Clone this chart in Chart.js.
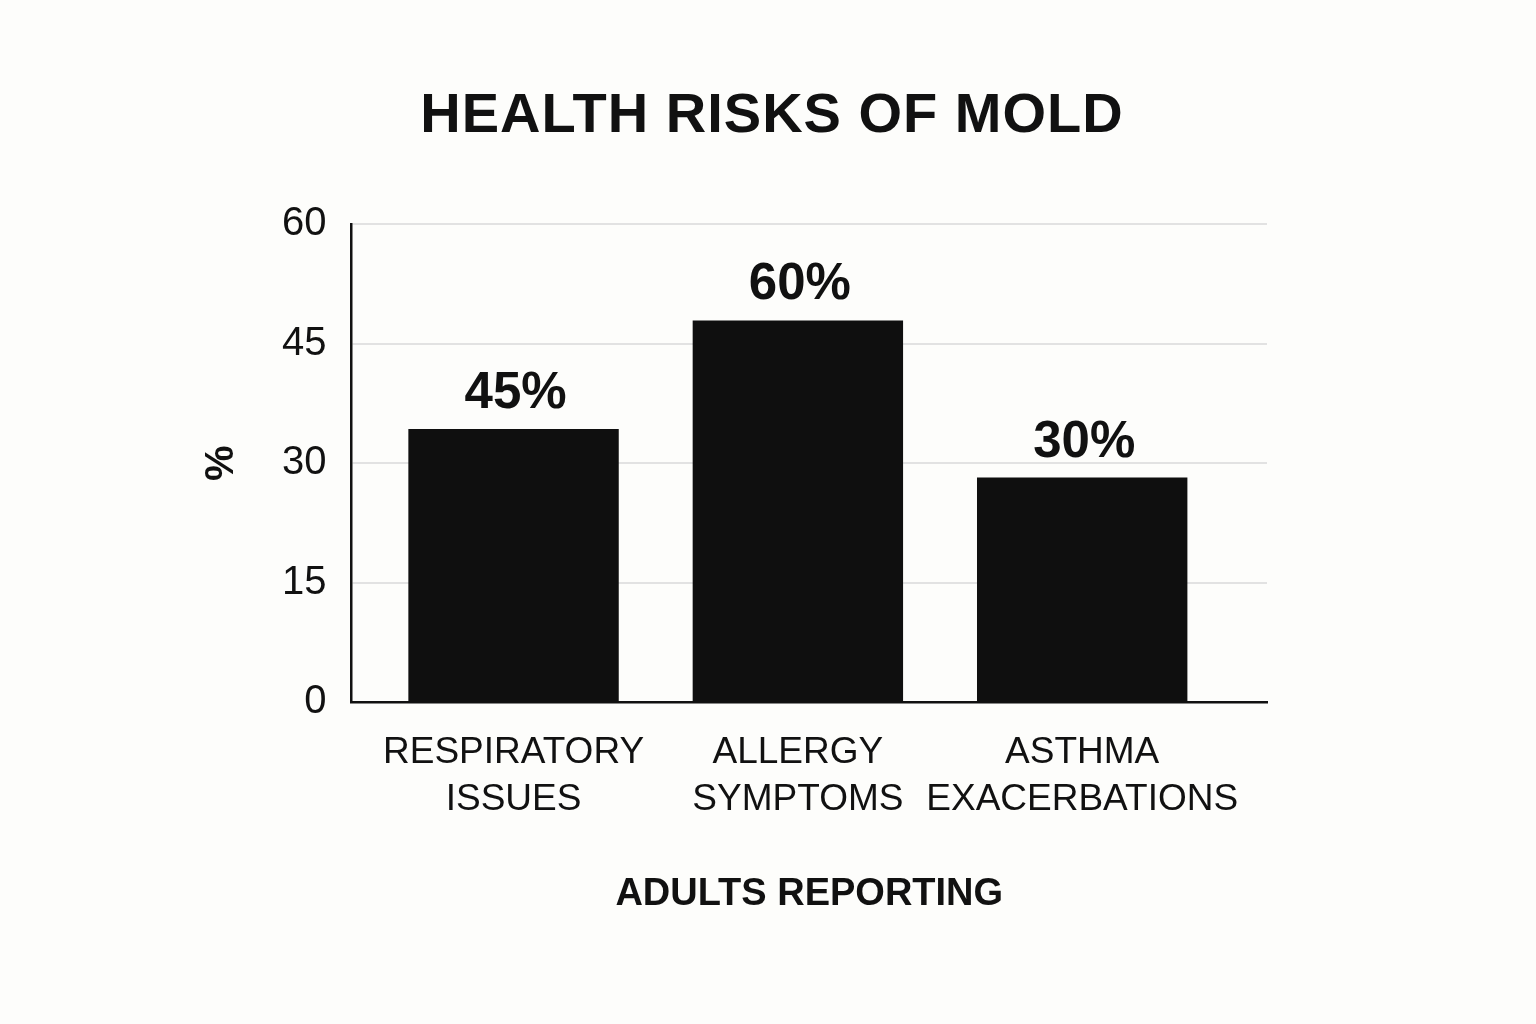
<!DOCTYPE html>
<html>
<head>
<meta charset="utf-8">
<script src="https://cdn.jsdelivr.net/npm/chart.js@4"></script>
<style>
  html, body { margin: 0; padding: 0; background: #fdfdfb; }
  #wrap { width: 1536px; height: 1024px; }
</style>
</head>
<body>
<div id="wrap"><canvas id="chart"></canvas></div>
<script>
// ── Data ────────────────────────────────────────────────────────────────────
const chartTitle = 'HEALTH RISKS OF MOLD';
const categories = [
    ['RESPIRATORY', 'ISSUES'],
    ['ALLERGY', 'SYMPTOMS'],
    ['ASTHMA', 'EXACERBATIONS'],
];
const barValues = [34.3, 47.9, 28.2];
const valueLabels = ['45%', '60%', '30%'];
const yTicks = [0, 15, 30, 45, 60];

const FONT = "'Liberation Sans', Arial, sans-serif";
const INK = '#111111';

// ── Title, centred on the page rather than on the plot box ──────────────────
const pageTitle = {
    id: 'pageTitle',
    afterDraw(chart) {
        const { ctx } = chart;
        ctx.save();
        ctx.font = `bold 56px ${FONT}`;
        ctx.letterSpacing = '1px';
        ctx.fillStyle = INK;
        ctx.textAlign = 'center';
        ctx.textBaseline = 'middle';
        ctx.fillText(chartTitle, chart.width / 2 + 4, 117);
        ctx.restore();
    },
};

// ── Labels above bars ───────────────────────────────────────────────────────
const barLabels = {
    id: 'barLabels',
    afterDatasetsDraw(chart) {
        const { ctx } = chart;
        const meta = chart.getDatasetMeta(0);
        ctx.save();
        ctx.font = `bold 51px ${FONT}`;
        ctx.fillStyle = INK;
        ctx.textAlign = 'center';
        ctx.textBaseline = 'alphabetic';
        meta.data.forEach((bar, i) => {
            ctx.fillText(valueLabels[i], bar.x + 2, bar.y - 21);
        });
        ctx.restore();
    },
};

new Chart(document.getElementById('chart'), {
    type: 'bar',
    data: {
        datasets: [
            {
                data: barValues.map((v, i) => ({ x: i, y: v })),
                backgroundColor: '#0f0f0f',
                borderWidth: 0,
                categoryPercentage: 1,
                barPercentage: 0.74,
            },
        ],
    },
    options: {
        responsive: true,
        maintainAspectRatio: false,
        animation: false,
        devicePixelRatio: 1,
        layout: { padding: { left: 121, right: 269, top: 224, bottom: 107 } },
        plugins: {
            legend: { display: false },
            tooltip: { enabled: false },
        },
        scales: {
            x: {
                type: 'linear',
                offset: false,
                bounds: 'data',
                min: -0.57,
                max: 2.65,
                grid: { display: false, drawTicks: false },
                border: { display: true, color: INK, width: 2.5 },
                afterBuildTicks: (scale) => {
                    scale.ticks = categories.map((_, i) => ({ value: i }));
                },
                ticks: {
                    autoSkip: false,
                    maxRotation: 0,
                    padding: 27,
                    color: INK,
                    font: { family: FONT, size: 37, lineHeight: 1.27 },
                    callback: (v) => categories[v],
                },
                title: {
                    display: true,
                    text: 'ADULTS REPORTING',
                    color: INK,
                    font: { family: FONT, size: 38, weight: 'bold', lineHeight: 1.2 },
                    padding: { top: 21, bottom: 0 },
                },
            },
            y: {
                min: 0,
                max: 60,
                afterBuildTicks: (scale) => {
                    scale.ticks = yTicks.map((v) => ({ value: v }));
                },
                grid: { color: '#e2e2e2', lineWidth: 2, drawTicks: false },
                border: { display: true, color: INK, width: 2.5 },
                ticks: {
                    padding: 25,
                    color: INK,
                    font: { family: FONT, size: 40 },
                },
                title: {
                    display: true,
                    text: '%',
                    color: INK,
                    font: { family: FONT, size: 40, weight: 'bold', lineHeight: 1.2 },
                    padding: { top: 77, bottom: 11 },
                },
            },
        },
    },
    plugins: [barLabels, pageTitle],
});
</script>
</body>
</html>
